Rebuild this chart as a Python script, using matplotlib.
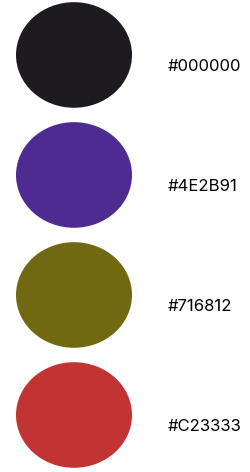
import matplotlib.pyplot as plt
from matplotlib.patches import Ellipse

# swatch labels and the fills as drawn
labels = ['#000000', '#4E2B91', '#716812', '#C23333']
fills = ['#1d1b20', '#4e2b91', '#716812', '#c23333']

plt.rcParams['font.family'] = ['Inter', 'DejaVu Sans']

fig = plt.figure(figsize=(2.5, 4.72), dpi=100)
ax = fig.add_axes([0, 0, 1, 1])
ax.set_xlim(0, 1)
ax.set_ylim(3.475, -0.458)
ax.axis('off')

for i, (lab, col) in enumerate(zip(labels, fills)):
    ax.add_patch(Ellipse((0.296, i), 0.464, 0.88, facecolor=col, edgecolor='none'))
    ax.text(0.672, i + 0.1, lab, fontsize=12, color='#000000', va='center', ha='left')

fig.savefig('out.png', dpi=100)
